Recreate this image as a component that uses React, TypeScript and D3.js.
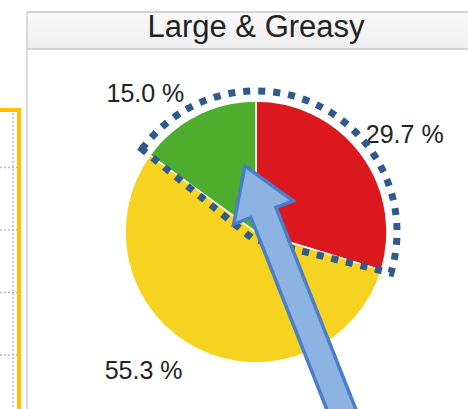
import React from "react";
import * as d3 from "d3";

const title = "Large & Greasy";
const categories = ["Red", "Yellow", "Green"];
const shares = [29.7, 55.3, 15.0];
const colors = ["#DA181E", "#F6D320", "#4EAD2C"];
const labelShiftDeg = [3.2, 12.7, -11.4];
const bgGridRows = [1, 2, 3, 4];

const W = 468;
const H = 409;
const cx = 256;
const cy = 232;
const R = 131;

export default function App() {
  const pie = d3
    .pie<number>()
    .sort(null)
    .value((d) => d)
    .startAngle(0)
    .endAngle(2 * Math.PI);
  const arcs = pie(shares);
  const arc = d3.arc<d3.PieArcDatum<number>>().innerRadius(0).outerRadius(R);

  // dotted highlight around green + red slices
  const a0 = arcs[2].startAngle - 2 * Math.PI;
  const a1 = arcs[0].endAngle;
  const hr = R + 10;
  const p = d3.path();
  const pt = (a: number, r: number) => [cx + r * Math.sin(a), cy - r * Math.cos(a)];
  const [sx, sy] = pt(a0, hr);
  p.moveTo(sx, sy);
  p.arc(cx, cy, hr, a0 - Math.PI / 2, a1 - Math.PI / 2, false);
  p.lineTo(cx - 3, cy + 7);
  p.closePath();

  // left background panel grid
  const gy = d3.scaleLinear().domain([0, 4]).range([105, 355]);

  // arrow in local coords (tip at origin, pointing up)
  const arrowPts: [number, number][] = [
    [0, 0],
    [32, 50],
    [13.5, 50],
    [13.5, 330],
    [-13.5, 330],
    [-13.5, 50],
    [-32, 50],
  ];
  const arrowLine = d3.line().curve(d3.curveLinearClosed)(arrowPts) || "";

  return (
    <svg
      width={W}
      height={H}
      viewBox={`0 0 ${W} ${H}`}
      style={{ position: "fixed", left: 0, top: 0, background: "#fff" }}
      fontFamily="'Liberation Sans', Arial, sans-serif"
    >
      <defs>
        <linearGradient id="hdr" x1="0" x2="0" y1="0" y2="1">
          <stop offset="0" stopColor="#f9f9f9" />
          <stop offset="1" stopColor="#efefef" />
        </linearGradient>
      </defs>
      <rect x={0} y={0} width={W} height={H} fill="#fff" />

      {/* left neighbouring chart */}
      {bgGridRows.map((r) => (
        <line
          key={r}
          x1={0}
          x2={17}
          y1={gy(r)}
          y2={gy(r)}
          stroke="#bdbdbd"
          strokeWidth={1.5}
          strokeDasharray="2,2"
        />
      ))}
      <line x1={13} x2={13} y1={113} y2={H} stroke="#bdbdbd" strokeWidth={1.5} strokeDasharray="2,2" />
      <rect x={-10} y={110} width={29} height={320} fill="none" stroke="#FFC000" strokeWidth={4} />

      {/* panel frame and header */}
      <rect x={27} y={12} width={W - 27} height={37} fill="url(#hdr)" />
      <line x1={27} x2={W} y1={12} y2={12} stroke="#c6c6c6" strokeWidth={1.5} />
      <line x1={27} x2={W} y1={49} y2={49} stroke="#c6c6c6" strokeWidth={1.5} />
      <line x1={27} x2={27} y1={12} y2={H} stroke="#cfcfcf" strokeWidth={1.5} />
      <text x={256} y={37} textAnchor="middle" fontSize={31} fill="#222">
        {title}
      </text>

      {/* pie */}
      <g transform={`translate(${cx},${cy})`}>
        {arcs.map((d, i) => (
          <path key={categories[i]} d={arc(d) || ""} fill={colors[i]} stroke="#fff" strokeWidth={1.5} />
        ))}
      </g>

      {/* labels */}
      {arcs.map((d, i) => {
        const mid = (d.startAngle + d.endAngle) / 2 + (labelShiftDeg[i] * Math.PI) / 180;
        const lr = 178;
        return (
          <text
            key={"l" + i}
            x={cx + lr * Math.sin(mid)}
            y={cy - lr * Math.cos(mid)}
            textAnchor="middle"
            dominantBaseline="central"
            fontSize={25}
            fill="#222"
          >
            {shares[i].toFixed(1)} %
          </text>
        );
      })}

      {/* dotted highlight */}
      <path
        d={p.toString()}
        fill="none"
        stroke="#2F5A8B"
        strokeWidth={7}
        strokeDasharray="7,8"
        strokeLinejoin="miter"
      />

      {/* arrow */}
      <path
        d={arrowLine}
        transform="translate(245,166) rotate(-21.6)"
        fill="#8DB3E2"
        stroke="#4A7EC9"
        strokeWidth={3.5}
        strokeLinejoin="miter"
      />
    </svg>
  );
}
